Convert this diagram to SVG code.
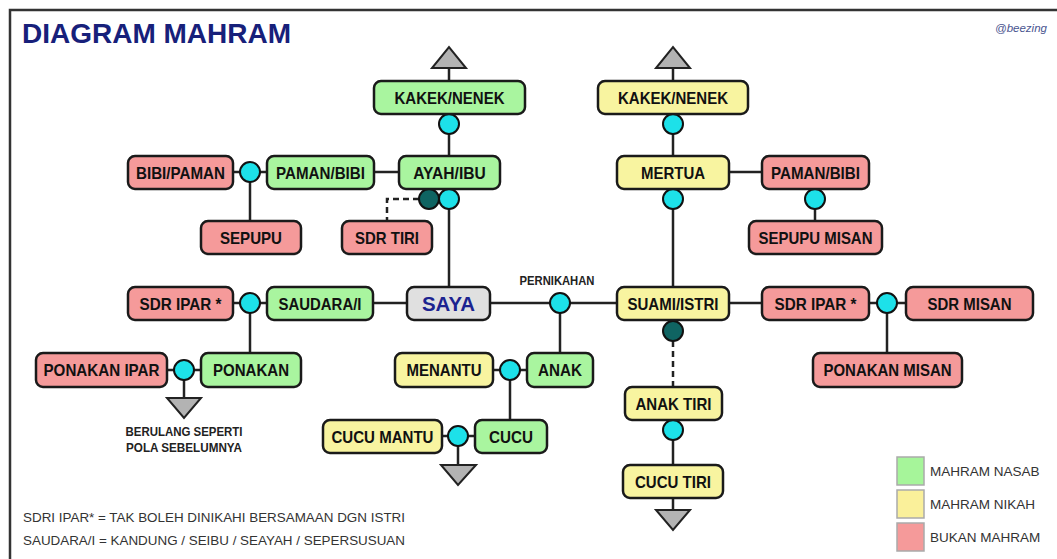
<svg xmlns="http://www.w3.org/2000/svg" width="1057" height="559" viewBox="0 0 1057 559">
<style>
  .box{stroke:#1a1a1a;stroke-width:2.5}
  .g{fill:#a9f59f}
  .y{fill:#f8f4a0}
  .r{fill:#f59a9a}
  .s{fill:#e0e0e0}
  .lbl{font-family:"Liberation Sans",Arial,sans-serif;font-weight:bold;font-size:16.5px;fill:#111;text-anchor:middle}
  .ln{stroke:#222;stroke-width:2.5;fill:none}
  .dash{stroke:#222;stroke-width:2.5;fill:none;stroke-dasharray:6,4}
  .jc{fill:#1de1e9;stroke:#111;stroke-width:2}
  .jd{fill:#0f6462;stroke:#111;stroke-width:2}
  .tri{fill:#b3b3b3;stroke:#222;stroke-width:2;stroke-linejoin:miter}
  .note{font-family:"Liberation Sans",Arial,sans-serif;font-size:13.5px;fill:#333}
  .small{font-family:"Liberation Sans",Arial,sans-serif;font-weight:bold;font-size:12px;fill:#222;text-anchor:middle}
  .leg{stroke:#aaa;stroke-width:1.5}
</style>
<rect x="0" y="0" width="1057" height="559" fill="#ffffff"/>
<path d="M10,559 V10 H1057" fill="none" stroke="#333" stroke-width="2.5"/>
<text x="22" y="43" font-family="'Liberation Sans',Arial,sans-serif" font-weight="bold" font-size="28px" fill="#17207a">DIAGRAM MAHRAM</text>
<text x="995" y="32" font-family="'Liberation Sans',Arial,sans-serif" font-style="italic" font-size="11.5px" fill="#4a5590">@beezing</text>

<g id="connectors">
  <line class="ln" x1="449" y1="68" x2="449" y2="81"/>
  <line class="ln" x1="673" y1="68" x2="673" y2="81"/>
  <line class="ln" x1="449" y1="134" x2="449" y2="156"/>
  <line class="ln" x1="673" y1="134" x2="673" y2="156"/>
  <line class="ln" x1="374" y1="172" x2="399" y2="172"/>
  <line class="ln" x1="729" y1="172" x2="762" y2="172"/>
  <line class="ln" x1="233" y1="172" x2="267" y2="172"/>
  <line class="ln" x1="250" y1="182" x2="250" y2="221"/>
  <line class="ln" x1="815" y1="209" x2="815" y2="221"/>
  <path class="dash" d="M419,199 H387 V221"/>
  <line class="ln" x1="449" y1="209" x2="449" y2="287"/>
  <line class="ln" x1="673" y1="209" x2="673" y2="287"/>
  <line class="ln" x1="233" y1="303" x2="267" y2="303"/>
  <line class="ln" x1="373" y1="303" x2="407" y2="303"/>
  <line class="ln" x1="490" y1="303" x2="617" y2="303"/>
  <line class="ln" x1="729" y1="303" x2="762" y2="303"/>
  <line class="ln" x1="869" y1="303" x2="906" y2="303"/>
  <line class="ln" x1="250" y1="313" x2="250" y2="353"/>
  <line class="ln" x1="560" y1="313" x2="560" y2="353"/>
  <line class="ln" x1="887" y1="313" x2="887" y2="353"/>
  <line class="dash" x1="673" y1="341" x2="673" y2="387"/>
  <line class="ln" x1="167" y1="370" x2="201" y2="370"/>
  <line class="ln" x1="184" y1="380" x2="184" y2="398"/>
  <line class="ln" x1="493" y1="370" x2="527" y2="370"/>
  <line class="ln" x1="510" y1="380" x2="510" y2="420"/>
  <line class="ln" x1="442" y1="436" x2="475" y2="436"/>
  <line class="ln" x1="458" y1="446" x2="458" y2="465"/>
  <line class="ln" x1="673" y1="440" x2="673" y2="465"/>
  <line class="ln" x1="673" y1="498" x2="673" y2="510"/>
  <polygon class="tri" points="432,68 466,68 449,47"/>
  <polygon class="tri" points="656,68 690,68 673,47"/>
  <polygon class="tri" points="167,398 201,398 184,418"/>
  <polygon class="tri" points="441,465 476,465 458,485"/>
  <polygon class="tri" points="656,510 690,510 673,530"/>
</g>

<g id="junctions">
  <circle class="jc" cx="449" cy="124" r="10"/>
  <circle class="jc" cx="673" cy="124" r="10"/>
  <circle class="jc" cx="250" cy="172" r="10"/>
  <circle class="jd" cx="429" cy="199" r="10"/>
  <circle class="jc" cx="449" cy="199" r="10"/>
  <circle class="jc" cx="673" cy="199" r="10"/>
  <circle class="jc" cx="815" cy="199" r="10"/>
  <circle class="jc" cx="250" cy="303" r="10"/>
  <circle class="jc" cx="560" cy="303" r="10"/>
  <circle class="jc" cx="887" cy="303" r="10"/>
  <circle class="jd" cx="673" cy="331" r="10"/>
  <circle class="jc" cx="184" cy="370" r="10"/>
  <circle class="jc" cx="510" cy="370" r="10"/>
  <circle class="jc" cx="458" cy="436" r="10"/>
  <circle class="jc" cx="673" cy="430" r="10"/>
</g>

<g id="kakek-nenek-nasab"><rect class="box g" x="374" y="81" width="151" height="33" rx="7"/><text class="lbl" x="449.5" y="103.5" textLength="110" lengthAdjust="spacingAndGlyphs">KAKEK/NENEK</text></g>
<g id="kakek-nenek-nikah"><rect class="box y" x="598" y="81" width="150" height="33" rx="7"/><text class="lbl" x="673" y="103.5" textLength="110" lengthAdjust="spacingAndGlyphs">KAKEK/NENEK</text></g>
<g id="bibi-paman"><rect class="box r" x="128" y="156" width="105" height="33" rx="7"/><text class="lbl" x="180.5" y="178.5" textLength="89" lengthAdjust="spacingAndGlyphs">BIBI/PAMAN</text></g>
<g id="paman-bibi-nasab"><rect class="box g" x="267" y="156" width="107" height="33" rx="7"/><text class="lbl" x="320.5" y="178.5" textLength="89" lengthAdjust="spacingAndGlyphs">PAMAN/BIBI</text></g>
<g id="ayah-ibu"><rect class="box g" x="399" y="156" width="101" height="33" rx="7"/><text class="lbl" x="449.5" y="178.5" textLength="72.5" lengthAdjust="spacingAndGlyphs">AYAH/IBU</text></g>
<g id="mertua"><rect class="box y" x="617" y="156" width="112" height="33" rx="7"/><text class="lbl" x="673" y="178.5" textLength="64" lengthAdjust="spacingAndGlyphs">MERTUA</text></g>
<g id="paman-bibi-bukan"><rect class="box r" x="762" y="156" width="107" height="33" rx="7"/><text class="lbl" x="815.5" y="178.5" textLength="89" lengthAdjust="spacingAndGlyphs">PAMAN/BIBI</text></g>
<g id="sepupu"><rect class="box r" x="201" y="221" width="100" height="33" rx="7"/><text class="lbl" x="251" y="243.5" textLength="62" lengthAdjust="spacingAndGlyphs">SEPUPU</text></g>
<g id="sdr-tiri"><rect class="box r" x="342" y="221" width="90" height="33" rx="7"/><text class="lbl" x="387" y="243.5" textLength="64" lengthAdjust="spacingAndGlyphs">SDR TIRI</text></g>
<g id="sepupu-misan"><rect class="box r" x="749" y="221" width="133" height="33" rx="7"/><text class="lbl" x="815.5" y="243.5" textLength="114" lengthAdjust="spacingAndGlyphs">SEPUPU MISAN</text></g>
<g id="sdr-ipar-kiri"><rect class="box r" x="128" y="287" width="105" height="33" rx="7"/><text class="lbl" x="180.5" y="309.5" textLength="82" lengthAdjust="spacingAndGlyphs">SDR IPAR *</text></g>
<g id="saudara"><rect class="box g" x="267" y="287" width="106" height="33" rx="7"/><text class="lbl" x="320" y="309.5" textLength="83" lengthAdjust="spacingAndGlyphs">SAUDARA/I</text></g>
<g id="saya"><rect class="box s" x="407" y="287" width="83" height="33" rx="7"/><text x="448.5" y="311" font-family="'Liberation Sans',Arial,sans-serif" font-weight="bold" font-size="21px" fill="#1c2390" text-anchor="middle" textLength="53" lengthAdjust="spacingAndGlyphs">SAYA</text></g>
<g id="suami-istri"><rect class="box y" x="617" y="287" width="112" height="33" rx="7"/><text class="lbl" x="673" y="309.5" textLength="91" lengthAdjust="spacingAndGlyphs">SUAMI/ISTRI</text></g>
<g id="sdr-ipar-kanan"><rect class="box r" x="762" y="287" width="107" height="33" rx="7"/><text class="lbl" x="815.5" y="309.5" textLength="82" lengthAdjust="spacingAndGlyphs">SDR IPAR *</text></g>
<g id="sdr-misan"><rect class="box r" x="906" y="287" width="127" height="33" rx="7"/><text class="lbl" x="969.5" y="309.5" textLength="84" lengthAdjust="spacingAndGlyphs">SDR MISAN</text></g>
<g id="ponakan-ipar"><rect class="box r" x="36" y="353" width="131" height="34" rx="7"/><text class="lbl" x="101.5" y="376" textLength="116" lengthAdjust="spacingAndGlyphs">PONAKAN IPAR</text></g>
<g id="ponakan"><rect class="box g" x="201" y="353" width="100" height="34" rx="7"/><text class="lbl" x="251" y="376" textLength="76" lengthAdjust="spacingAndGlyphs">PONAKAN</text></g>
<g id="menantu"><rect class="box y" x="395" y="353" width="98" height="34" rx="7"/><text class="lbl" x="444" y="376" textLength="75" lengthAdjust="spacingAndGlyphs">MENANTU</text></g>
<g id="anak"><rect class="box g" x="527" y="353" width="66" height="34" rx="7"/><text class="lbl" x="560" y="376" textLength="44" lengthAdjust="spacingAndGlyphs">ANAK</text></g>
<g id="ponakan-misan"><rect class="box r" x="813" y="353" width="149" height="34" rx="7"/><text class="lbl" x="887.5" y="376" textLength="128" lengthAdjust="spacingAndGlyphs">PONAKAN MISAN</text></g>
<g id="anak-tiri"><rect class="box y" x="625" y="387" width="97" height="33" rx="7"/><text class="lbl" x="673.5" y="409.5" textLength="76" lengthAdjust="spacingAndGlyphs">ANAK TIRI</text></g>
<g id="cucu-mantu"><rect class="box y" x="323" y="420" width="119" height="33" rx="7"/><text class="lbl" x="382.5" y="442.5" textLength="102" lengthAdjust="spacingAndGlyphs">CUCU MANTU</text></g>
<g id="cucu"><rect class="box g" x="475" y="420" width="72" height="33" rx="7"/><text class="lbl" x="511" y="442.5" textLength="44" lengthAdjust="spacingAndGlyphs">CUCU</text></g>
<g id="cucu-tiri"><rect class="box y" x="623" y="465" width="100" height="33" rx="7"/><text class="lbl" x="673" y="487.5" textLength="76" lengthAdjust="spacingAndGlyphs">CUCU TIRI</text></g>

<text class="small" x="557" y="285" textLength="75" lengthAdjust="spacingAndGlyphs">PERNIKAHAN</text>
<text class="small" x="184" y="436" textLength="117" lengthAdjust="spacingAndGlyphs">BERULANG SEPERTI</text>
<text class="small" x="184" y="452" textLength="116" lengthAdjust="spacingAndGlyphs">POLA SEBELUMNYA</text>

<text class="note" x="23" y="522" textLength="382" lengthAdjust="spacingAndGlyphs">SDRI IPAR* = TAK BOLEH DINIKAHI BERSAMAAN DGN ISTRI</text>
<text class="note" x="23" y="545" textLength="382" lengthAdjust="spacingAndGlyphs">SAUDARA/I = KANDUNG / SEIBU / SEAYAH / SEPERSUSUAN</text>

<g id="legend">
  <rect class="leg" x="897" y="457" width="27" height="28" fill="#a6f59a"/>
  <rect class="leg" x="897" y="490" width="27" height="28" fill="#faf09a"/>
  <rect class="leg" x="897" y="523" width="27" height="28" fill="#f59a9a"/>
  <text class="note" x="930" y="476">MAHRAM NASAB</text>
  <text class="note" x="930" y="509">MAHRAM NIKAH</text>
  <text class="note" x="930" y="542">BUKAN MAHRAM</text>
</g>
</svg>
